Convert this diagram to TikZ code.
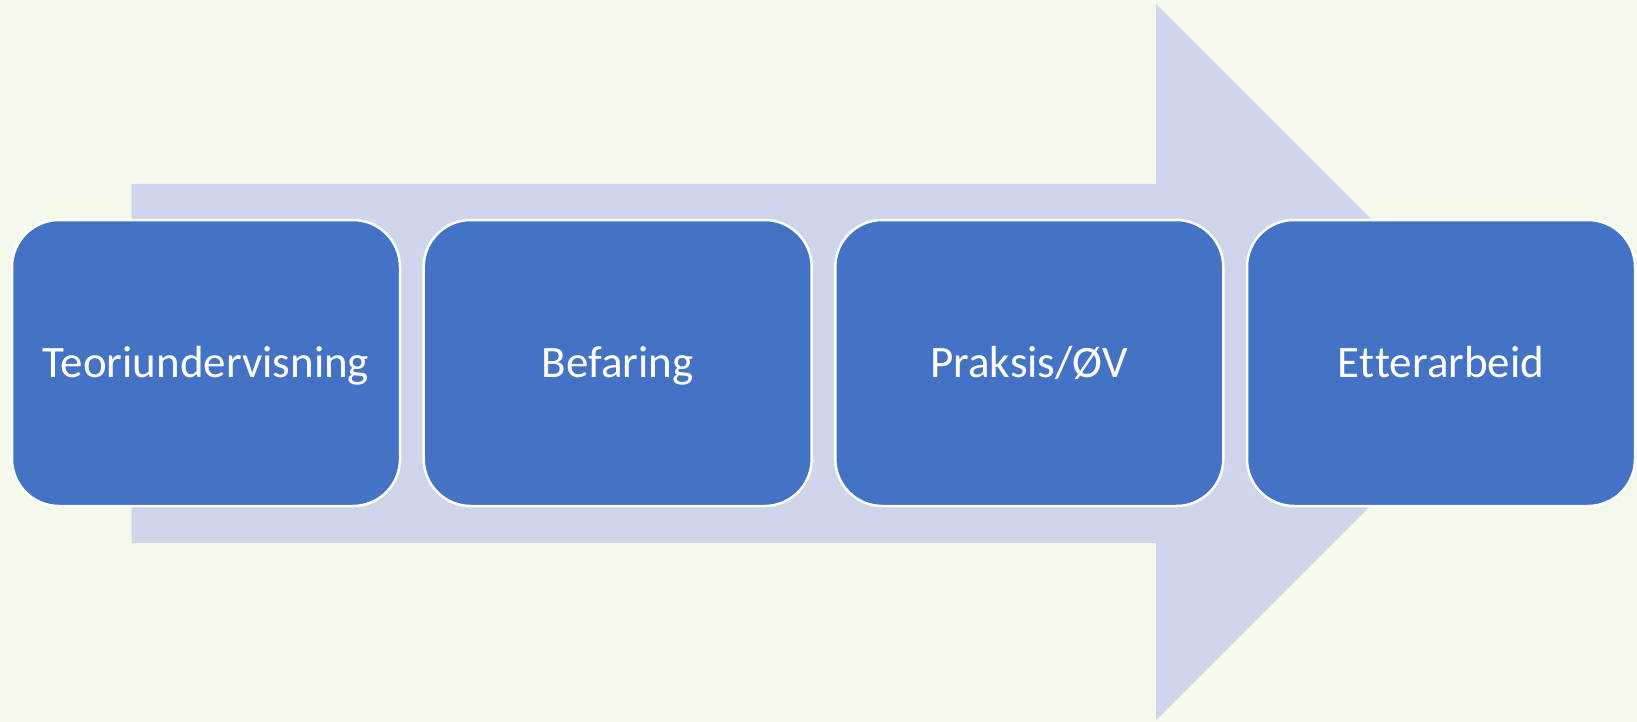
\documentclass[tikz,border=0pt]{standalone}
\usepackage{fontspec}
\setmainfont[RawFeature={-liga;-clig;-calt}]{Carlito}
\definecolor{bgcol}{HTML}{F5F9EC}
\definecolor{arrowcol}{HTML}{CFD5EA}
\definecolor{boxcol}{HTML}{4472C4}
\begin{document}
\begin{tikzpicture}[x=1pt, y=-1pt,
    stepbox/.style={rectangle, rounded corners=47pt, draw=white, line width=2.5pt,
      fill=boxcol, text=white, minimum width=388pt, minimum height=286pt,
      font=\fontsize{45}{54}\selectfont, text height=34pt, text depth=4.4pt}]
        % background and big arrow
        \fill[bgcol] (0,0) rectangle (1637,722);
        \useasboundingbox (0,0) rectangle (1637,722);
        \fill[arrowcol] (131.5,184) -- (1156,184) -- (1156,4) -- (1514,362)
            -- (1156,720) -- (1156,543) -- (131.5,543) -- cycle;
        % steps
        \node[stepbox] (teori) at (206,363) {Teoriundervisning};
        \node[stepbox] (befaring) at (617.7,363) {Befaring};
        \node[stepbox] (praksis) at (1029.3,363) {Praksis/ØV};
        \node[stepbox] (etter) at (1441,363) {Et\kern1pt terarbeid};
    \end{tikzpicture}
\end{document}
